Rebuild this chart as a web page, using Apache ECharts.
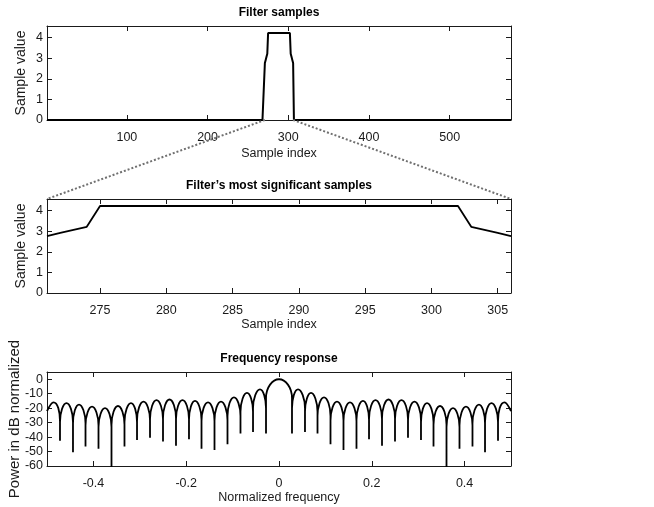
<!DOCTYPE html>
<html>
<head>
<meta charset="utf-8">
<script src="https://cdn.jsdelivr.net/npm/echarts@6/dist/echarts.min.js"></script>
<style>
html,body{margin:0;padding:0;background:#fff}
#main{width:654px;height:507px}
</style>
</head>
<body>
<div id="main"></div>
<script>
// filter taps (sample index 1..576, non zero only from 271 to 306)
var sampleFirst = 1
var sampleLast = 576
var coreFirst = 271
var coreValues = [2.77, 2.92, 3.07, 3.22,
  4.23, 4.23, 4.23, 4.23, 4.23, 4.23, 4.23, 4.23, 4.23, 4.23, 4.23, 4.23, 4.23, 4.23,
  4.23, 4.23, 4.23, 4.23, 4.23, 4.23, 4.23, 4.23, 4.23, 4.23, 4.23, 4.23, 4.23, 4.23,
  3.22, 3.07, 2.92, 2.77]
var valueMax = 4.57

// tick labels
var sampleTicks = [100, 200, 300, 400, 500]
var zoomTicks = [275, 280, 285, 290, 295, 300, 305]
var valueTicks = [0, 1, 2, 3, 4]
var freqTicks = [-0.4, -0.2, 0, 0.2, 0.4]
var dbTicks = [-60, -50, -40, -30, -20, -10, 0]

// frequency response, read lobe by lobe (peaks and nulls)
var edgeDb = -22
var peakFreq = [-0.486, -0.458, -0.431, -0.403, -0.375, -0.347, -0.319, -0.292, -0.264, -0.236, -0.208, -0.181, -0.153, -0.125, -0.097, -0.069, -0.041,
  0,
  0.041, 0.069, 0.097, 0.125, 0.153, 0.181, 0.208, 0.236, 0.264, 0.292, 0.319, 0.347, 0.375, 0.403, 0.431, 0.458, 0.486]
var peakDb = [-16, -16.5, -17.5, -19, -20, -18.5, -16.5, -15.5, -14.5, -14, -14.5, -15, -16, -15.5, -12.5, -9.5, -7,
  0,
  -7, -9.5, -12.5, -15.5, -16, -15, -14.5, -14, -14.5, -15.5, -16.5, -18.5, -20, -19, -17.5, -16.5, -16]
var nullFreq = [-0.472, -0.444, -0.417, -0.389, -0.361, -0.333, -0.306, -0.278, -0.250, -0.222, -0.194, -0.167, -0.139, -0.111, -0.083, -0.056, -0.028,
  0.028, 0.056, 0.083, 0.111, 0.139, 0.167, 0.194, 0.222, 0.250, 0.278, 0.306, 0.333, 0.361, 0.389, 0.417, 0.444, 0.472]
var nullDb = [-42.5, -50.5, -46.5, -48, -62, -46.5, -42, -40.5, -43, -46, -41.5, -48, -49, -45, -37.5, -36.5, -37.5,
  -37.5, -36.5, -37.5, -45, -49, -48, -41.5, -46, -43, -40.5, -42, -46.5, -62, -48, -46.5, -50.5, -42.5]

var font = "'Liberation Sans', Arial, Helvetica, sans-serif"
var ink = '#1a1a1a'

// full filter
var fullData = []
for (var i = sampleFirst; i <= sampleLast; i++) {
  var k = i - coreFirst
  fullData.push([i, (k >= 0 && k < coreValues.length) ? coreValues[k] : 0])
}
var coreData = coreValues.map(function (v, k) { return [coreFirst + k, v] })

// lobes: steep walls at every null
var wallDrop = 13
var respData = [[-0.5, edgeDb]]
for (var j = 0; j < peakFreq.length; j++) {
  if (j > 0) {
    respData.push([nullFreq[j - 1], peakDb[j - 1] - wallDrop])
    respData.push([nullFreq[j - 1], nullDb[j - 1]])
    respData.push([nullFreq[j - 1], peakDb[j] - wallDrop])
  }
  respData.push([peakFreq[j], peakDb[j]])
}
respData.push([0.5, edgeDb])

function xAx(grid, min, max, ticks, top, name, gap) {
  return {
    type: 'value', gridIndex: grid, min: min, max: max,
    position: top ? 'top' : 'bottom',
    name: top ? '' : name, nameLocation: 'middle', nameGap: gap,
    nameTextStyle: { fontFamily: font, fontSize: 12.5, color: ink },
    axisLine: { show: true, onZero: false, lineStyle: { color: ink, width: 1 } },
    axisTick: { show: true, inside: true, length: 5, customValues: ticks, lineStyle: { color: ink } },
    axisLabel: { show: !top, customValues: ticks, margin: 11, fontFamily: font, fontSize: 12.5, color: ink },
    splitLine: { show: false }
  }
}
function yAx(grid, min, max, ticks, right, name, gap, size) {
  return {
    type: 'value', gridIndex: grid, min: min, max: max,
    position: right ? 'right' : 'left',
    name: right ? '' : name, nameLocation: 'middle', nameGap: gap, nameMoveOverlap: false,
    nameTextStyle: { fontFamily: font, fontSize: size, color: ink },
    axisLine: { show: true, onZero: false, lineStyle: { color: ink, width: 1 } },
    axisTick: { show: true, inside: true, length: 5, customValues: ticks, lineStyle: { color: ink } },
    axisLabel: { show: !right, customValues: ticks, margin: 4, fontFamily: font, fontSize: 12.5, color: ink },
    splitLine: { show: false }
  }
}

var myChart = echarts.init(document.getElementById('main'))
var titleStyle = { fontFamily: font, fontSize: 12, fontWeight: 'bold', color: '#000' }
var option = {
  animation: false,
  backgroundColor: '#fff',
  title: [
    { text: 'Filter samples', left: 279, top: 7, textAlign: 'center', padding: 0, textStyle: titleStyle },
    { text: 'Filter\u2019s most significant samples', left: 279, top: 180, textAlign: 'center', padding: 0, textStyle: titleStyle },
    { text: 'Frequency response', left: 279, top: 353, textAlign: 'center', padding: 0, textStyle: titleStyle }
  ],
  grid: [
    { left: 47, width: 464, top: 26, height: 94, outerBoundsMode: 'none' },
    { left: 47, width: 464, top: 199, height: 94, outerBoundsMode: 'none' },
    { left: 47, width: 464, top: 372, height: 94, outerBoundsMode: 'none' }
  ],
  xAxis: [
    xAx(0, sampleFirst, sampleLast, sampleTicks, false, 'Sample index', 27),
    xAx(0, sampleFirst, sampleLast, sampleTicks, true),
    xAx(1, coreFirst, coreFirst + coreValues.length - 1, zoomTicks, false, 'Sample index', 25),
    xAx(1, coreFirst, coreFirst + coreValues.length - 1, zoomTicks, true),
    xAx(2, -0.5, 0.5, freqTicks, false, 'Normalized frequency', 22),
    xAx(2, -0.5, 0.5, freqTicks, true)
  ],
  yAxis: [
    yAx(0, 0, valueMax, valueTicks, false, 'Sample value', 19, 14),
    yAx(0, 0, valueMax, valueTicks, true),
    yAx(1, 0, valueMax, valueTicks, false, 'Sample value', 19, 14),
    yAx(1, 0, valueMax, valueTicks, true),
    yAx(2, -60, 5, dbTicks, false, 'Power in dB normalized', 25, 15),
    yAx(2, -60, 5, dbTicks, true)
  ],
  series: [
    { type: 'line', xAxisIndex: 0, yAxisIndex: 0, data: fullData, showSymbol: false,
      lineStyle: { color: '#000', width: 2 } },
    { type: 'line', xAxisIndex: 2, yAxisIndex: 2, data: coreData, showSymbol: false,
      lineStyle: { color: '#000', width: 1.8 } },
    { type: 'line', xAxisIndex: 4, yAxisIndex: 4, data: respData, showSymbol: false, smooth: 0.5,
      lineStyle: { color: '#000', width: 1.8 } }
  ]
}
myChart.setOption(option)

// dotted zoom guides from the top plot down to the corners of the middle plot
var coreLast = coreFirst + coreValues.length - 1
var a0 = myChart.convertToPixel({ xAxisIndex: 0, yAxisIndex: 0 }, [coreFirst, 0])
var a1 = myChart.convertToPixel({ xAxisIndex: 2, yAxisIndex: 2 }, [coreFirst, valueMax])
var b0 = myChart.convertToPixel({ xAxisIndex: 0, yAxisIndex: 0 }, [coreLast, 0])
var b1 = myChart.convertToPixel({ xAxisIndex: 2, yAxisIndex: 2 }, [coreLast, valueMax])
var guide = { stroke: '#707070', lineWidth: 2, lineDash: [2, 2] }
myChart.setOption({
  graphic: [
    { type: 'line', z: 100, shape: { x1: a0[0], y1: a0[1], x2: a1[0], y2: a1[1] }, style: guide },
    { type: 'line', z: 100, shape: { x1: b0[0], y1: b0[1], x2: b1[0], y2: b1[1] }, style: guide }
  ]
})
</script>
</body>
</html>
